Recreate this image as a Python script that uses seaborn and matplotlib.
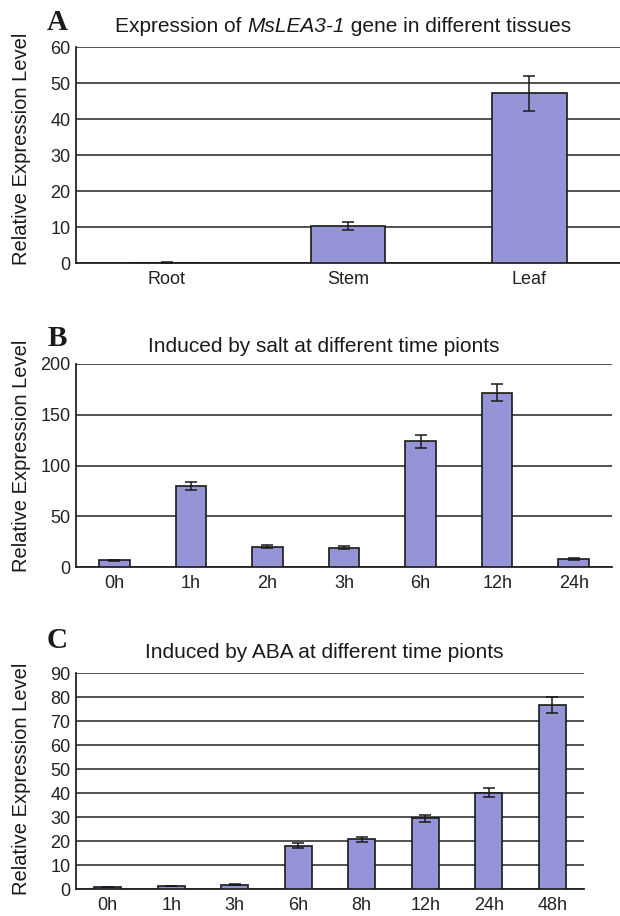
import matplotlib
matplotlib.use("Agg")
import matplotlib.pyplot as plt
import seaborn as sns
import numpy as np

# Panel A - tissues
tissues = ["Root", "Stem", "Leaf"]
tissue_vals = [0.1, 10.3, 47.1]
tissue_err = [0.05, 1.2, 4.85]

# Panel B - salt time course
salt_times = ["0h", "1h", "2h", "3h", "6h", "12h", "24h"]
salt_vals = [6.5, 80.0, 20.0, 19.0, 124.0, 171.7, 8.0]
salt_err = [0.8, 4.0, 1.2, 1.2, 6.5, 8.4, 0.8]

# Panel C - ABA time course
aba_times = ["0h", "1h", "3h", "6h", "8h", "12h", "24h", "48h"]
aba_vals = [0.8, 1.2, 1.7, 18.0, 20.7, 29.5, 40.2, 76.7]
aba_err = [0.1, 0.15, 0.2, 1.1, 1.0, 1.5, 2.0, 3.5]

sns.set_theme(style="white")
plt.rcParams['font.family'] = ['Liberation Sans', 'DejaVu Sans']

BAR = "#9494d6"
W, H = 620, 916

fig = plt.figure(figsize=(W / 100, H / 100), dpi=100)


def px_axes(left, right, top, bottom):
    return fig.add_axes([left / W, 1 - bottom / H, (right - left) / W, (bottom - top) / H])


def panel(ax, cats, vals, errs, ymax, step, width):
    sns.barplot(x=cats, y=vals, color=BAR, width=width, edgecolor="#1a1a1a",
                linewidth=1.2, saturation=1, ax=ax, zorder=3)
    ax.errorbar(np.arange(len(cats)), vals, yerr=errs, fmt="none", ecolor="#1a1a1a",
                elinewidth=1.1, capsize=4, capthick=1.1, zorder=4)
    ax.set_ylim(0, ymax)
    ax.set_xlim(-0.5, len(cats) - 0.5)
    ax.set_yticks(np.arange(0, ymax + 1, step))
    ax.yaxis.grid(True, color="#222222", linewidth=1.1)
    ax.set_axisbelow(True)
    for s in ["top", "right"]:
        ax.spines[s].set_visible(False)
    for s in ["left", "bottom"]:
        ax.spines[s].set_color("#222222")
        ax.spines[s].set_linewidth(1.3)
    ax.tick_params(axis="both", length=0, labelsize=13, colors="#222222", pad=6)
    ax.tick_params(axis="y", pad=4)
    ax.set_xlabel("")
    ax.set_ylabel("")


# A
axA = px_axes(76, 620, 47, 263)
panel(axA, tissues, tissue_vals, tissue_err, 60, 10, 0.41)
axA.set_xticks([0.5, 1.5], minor=True)
axA.tick_params(axis="x", which="minor", direction="in", length=7, width=1.2, color="#222222")

# B
axB = px_axes(76, 612, 364, 567)
panel(axB, salt_times, salt_vals, salt_err, 200, 50, 0.4)

# C
axC = px_axes(76, 584, 673, 889)
panel(axC, aba_times, aba_vals, aba_err, 90, 10, 0.42)


# Titles, panel letters, y labels
def ftext(x, y, s, **kw):
    return fig.text(x / W, 1 - y / H, s, **kw)


for letter, yc in [("A", 23), ("B", 339), ("C", 641)]:
    ftext(57, yc, letter, fontsize=21, fontweight="bold", family="Liberation Serif",
          ha="center", va="center", color="#1a1a1a")

# title A in pieces so the gene name can be italic
renderer = fig.canvas.get_renderer()
x = 115
for part, style in [("Expression of ", "normal"), ("MsLEA3-1", "italic"),
                    (" gene in different tissues", "normal")]:
    t = ftext(x, 25, part, fontsize=15, style=style, ha="left", va="center_baseline",
              color="#1a1a1a")
    x += t.get_window_extent(renderer).width

ftext(148, 344, "Induced by salt at different time pionts", fontsize=15,
      ha="left", va="center_baseline", color="#1a1a1a")
ftext(145, 651, "Induced by ABA at different time pionts", fontsize=15,
      ha="left", va="center_baseline", color="#1a1a1a")

for yc in [149, 456, 779]:
    ftext(22, yc, "Relative Expression Level", fontsize=14.5, rotation=90,
          ha="center", va="center", color="#1a1a1a")

fig.savefig("out.png", dpi=100)
